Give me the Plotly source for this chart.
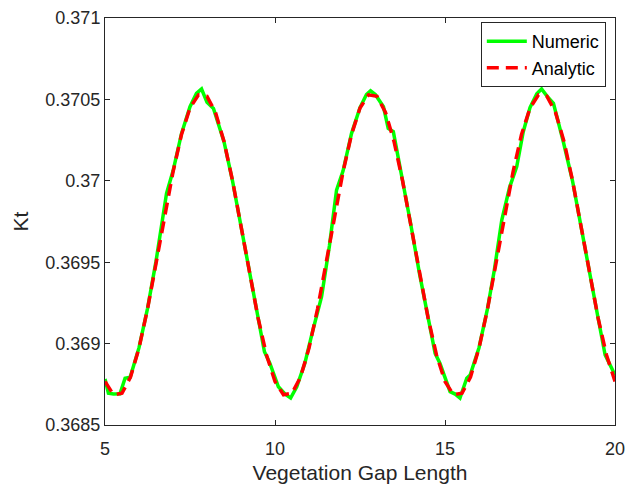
import plotly.graph_objects as go

# Numeric (green) series
num_x = [5.00, 5.10, 5.25, 5.44, 5.59, 5.74, 6.00, 6.25, 6.50, 6.81, 7.00, 7.25, 7.50, 7.69, 7.84,
         8.00, 8.19, 8.33, 8.50, 8.75, 9.00, 9.25, 9.50, 9.69, 9.85, 10.10, 10.30, 10.46, 10.64,
         10.88, 11.10, 11.37, 11.60, 11.81, 12.00, 12.25, 12.50, 12.69, 12.81, 12.95, 13.19, 13.33,
         13.48, 13.75, 13.97, 14.25, 14.50, 14.71, 14.85, 15.15, 15.30, 15.44, 15.64, 15.74, 16.00,
         16.25, 16.45, 16.67, 16.90, 17.11, 17.30, 17.50, 17.70, 17.84, 18.00, 18.19, 18.48, 18.75,
         19.00, 19.25, 19.50, 19.71, 19.85, 20.00]
num_y = [0.368783, 0.368695, 0.368690, 0.368692, 0.368787, 0.368793, 0.368975, 0.369215, 0.369505,
         0.369923, 0.370060, 0.370290, 0.370455, 0.370537, 0.370564, 0.370482, 0.370445, 0.370353,
         0.370240, 0.370000, 0.369720, 0.369430, 0.369160, 0.368950, 0.368879, 0.368735, 0.368690,
         0.368666, 0.368735, 0.368881, 0.369070, 0.369288, 0.369600, 0.369943, 0.370060, 0.370290,
         0.370450, 0.370530, 0.370553, 0.370530, 0.370455, 0.370322, 0.370302, 0.370010, 0.369759,
         0.369430, 0.369160, 0.368940, 0.368879, 0.368705, 0.368690, 0.368666, 0.368787, 0.368807,
         0.368975, 0.369215, 0.369450, 0.369759, 0.369960, 0.370087, 0.370300, 0.370450, 0.370535,
         0.370564, 0.370520, 0.370476, 0.370240, 0.370000, 0.369720, 0.369430, 0.369160, 0.368930,
         0.368870, 0.368807]

# Analytic (red dashed) series
ana_x = [5.00, 5.25, 5.50, 5.75, 6.00, 6.25, 6.50, 6.75, 7.00, 7.25, 7.50, 7.75, 8.00, 8.25, 8.50,
         8.75, 9.00, 9.25, 9.50, 9.75, 10.00, 10.25, 10.50, 10.75, 11.00, 11.25, 11.50, 11.75, 12.00,
         12.25, 12.50, 12.75, 13.00, 13.25, 13.50, 13.75, 14.00, 14.25, 14.50, 14.75, 15.00, 15.25,
         15.50, 15.75, 16.00, 16.25, 16.50, 16.75, 17.00, 17.25, 17.50, 17.75, 18.00, 18.25, 18.50,
         18.75, 19.00, 19.25, 19.50, 19.75, 20.00]
ana_y = [0.368767, 0.368686, 0.368695, 0.368794, 0.368972, 0.369212, 0.369491, 0.369781, 0.370054,
         0.370284, 0.370447, 0.370528, 0.370519, 0.370420, 0.370242, 0.370002, 0.369723, 0.369433,
         0.369160, 0.368930, 0.368767, 0.368686, 0.368695, 0.368794, 0.368972, 0.369212, 0.369491,
         0.369781, 0.370054, 0.370284, 0.370447, 0.370528, 0.370519, 0.370420, 0.370242, 0.370002,
         0.369723, 0.369433, 0.369160, 0.368930, 0.368767, 0.368686, 0.368695, 0.368794, 0.368972,
         0.369212, 0.369491, 0.369781, 0.370054, 0.370284, 0.370447, 0.370528, 0.370519, 0.370420,
         0.370242, 0.370002, 0.369723, 0.369433, 0.369160, 0.368930, 0.368767]

x_ticks = [5, 10, 15, 20]
x_tick_text = ["5", "10", "15", "20"]
y_ticks = [0.3685, 0.369, 0.3695, 0.370, 0.3705, 0.371]
y_tick_text = ["0.3685", "0.369", "0.3695", "0.37", "0.3705", "0.371"]

AX = "#262626"
FONT = "Liberation Sans, Arial, sans-serif"

fig = go.Figure()
fig.add_trace(go.Scatter(x=num_x, y=num_y, mode="lines", name="Numeric",
                         line=dict(color="#00ff00", width=3.5)))
fig.add_trace(go.Scatter(x=ana_x, y=ana_y, mode="lines", name="Analytic",
                         line=dict(color="#ff0000", width=3.5, dash="12px,7px")))

fig.update_layout(
    width=626, height=484,
    margin=dict(l=105, r=11, t=18, b=59, autoexpand=False),
    paper_bgcolor="white", plot_bgcolor="white",
    font=dict(family=FONT, size=18, color=AX),
    showlegend=True,
    legend=dict(x=0.982, y=0.990, xanchor="right", yanchor="top",
                bordercolor=AX, borderwidth=1, bgcolor="white",
                font=dict(size=18, color="#000000"), tracegroupgap=0,
                itemwidth=40),
    xaxis=dict(range=[5, 20], tickvals=x_ticks, ticktext=x_tick_text, automargin=False,
               showline=True, mirror="ticks", linecolor=AX, linewidth=1,
               ticks="inside", ticklen=5, tickcolor=AX, showgrid=False, zeroline=False,
               tickfont=dict(size=18, color=AX), ticklabelstandoff=7,
               title=dict(text="Vegetation Gap Length", font=dict(size=21, color=AX), standoff=9)),
    yaxis=dict(range=[0.3685, 0.371], tickvals=y_ticks, ticktext=y_tick_text, automargin=False,
               showline=True, mirror="ticks", linecolor=AX, linewidth=1,
               ticks="inside", ticklen=5, tickcolor=AX, showgrid=False, zeroline=False,
               tickfont=dict(size=18, color=AX),
               title=dict(text="Kt", font=dict(size=21, color=AX), standoff=10)),
)

fig.write_html("out.html", config={"displayModeBar": False},
               post_script="document.body.style.margin='0';document.body.style.overflow='hidden';")
